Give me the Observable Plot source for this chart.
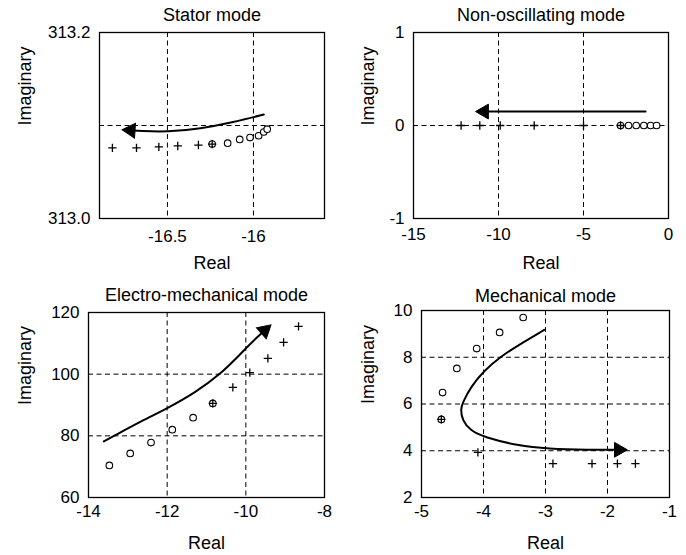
<!DOCTYPE html>
<html><head><meta charset="utf-8">
<script src="https://cdn.jsdelivr.net/npm/d3@7"></script>
<script src="https://cdn.jsdelivr.net/npm/@observablehq/plot@0.6"></script>
<style>
body{margin:0;background:#fff;}
#wrap{position:relative;width:686px;height:555px;background:#fff;overflow:hidden;font-family:"Liberation Sans",Arial,sans-serif;}
.panel{position:absolute;}
</style></head><body><div id="wrap"></div>
<script>
// ---------- Stator mode ----------
const statorTitle = "Stator mode";
const statorXTicks = [-16.5, -16];
const statorXTickLabels = ["-16.5", "-16"];
const statorYTicks = [313.0, 313.2];
const statorYTickLabels = ["313.0", "313.2"];
const statorXGrid = [-16.5, -16];
const statorYGrid = [313.1];
const statorPlusX = [-16.82, -16.68, -16.55, -16.44, -16.32, -16.24];
const statorPlusY = [313.076, 313.076, 313.077, 313.078, 313.079, 313.080];
const statorCircleX = [-16.24, -16.15, -16.08, -16.02, -15.97, -15.94, -15.92];
const statorCircleY = [313.080, 313.081, 313.085, 313.087, 313.089, 313.093, 313.096];
const statorArrowX = [-15.94, -16.115, -16.308, -16.502, -16.657, -16.763];
const statorArrowY = [313.1118, 313.1035, 313.0965, 313.093, 313.0941, 313.0954];

// ---------- Non-oscillating mode ----------
const nonoscTitle = "Non-oscillating mode";
const nonoscXTicks = [-15, -10, -5, 0];
const nonoscXTickLabels = ["-15", "-10", "-5", "0"];
const nonoscYTicks = [-1, 0, 1];
const nonoscYTickLabels = ["-1", "0", "1"];
const nonoscXGrid = [-10, -5];
const nonoscYGrid = [0];
const nonoscPlusX = [-12.2, -11.1, -9.9, -7.9, -5.0, -2.82];
const nonoscPlusY = [0, 0, 0, 0, 0, 0];
const nonoscCircleX = [-2.82, -2.35, -1.9, -1.45, -1.05, -0.7];
const nonoscCircleY = [0, 0, 0, 0, 0, 0];
const nonoscArrowX = [-1.35, -11.35];
const nonoscArrowY = [0.15, 0.15];

// ---------- Electro-mechanical mode ----------
const electroTitle = "Electro-mechanical mode";
const electroXTicks = [-14, -12, -10, -8];
const electroXTickLabels = ["-14", "-12", "-10", "-8"];
const electroYTicks = [60, 80, 100, 120];
const electroYTickLabels = ["60", "80", "100", "120"];
const electroXGrid = [-12, -10];
const electroYGrid = [80, 100];
const electroCircleX = [-13.47, -12.94, -12.41, -11.87, -11.34, -10.84];
const electroCircleY = [70.4, 74.3, 77.8, 82.0, 85.9, 90.5];
const electroPlusX = [-10.84, -10.33, -9.90, -9.44, -9.04, -8.66];
const electroPlusY = [90.5, 95.7, 100.5, 105.1, 110.3, 115.5];
const electroArrowX = [-13.61, -13.32, -12.73, -12.01, -11.29, -10.66, -10.11, -9.69, -9.36];
const electroArrowY = [78.2, 80.2, 84.3, 88.8, 94.0, 99.8, 106.9, 112.3, 116.0];

// ---------- Mechanical mode ----------
const mechTitle = "Mechanical mode";
const mechXTicks = [-5, -4, -3, -2, -1];
const mechXTickLabels = ["-5", "-4", "-3", "-2", "-1"];
const mechYTicks = [2, 4, 6, 8, 10];
const mechYTickLabels = ["2", "4", "6", "8", "10"];
const mechXGrid = [-4, -3, -2];
const mechYGrid = [4, 6, 8];
const mechCircleX = [-4.68, -4.66, -4.43, -4.11, -3.74, -3.36];
const mechCircleY = [5.34, 6.49, 7.52, 8.37, 9.06, 9.70];
const mechPlusX = [-4.68, -4.09, -2.88, -2.25, -1.84, -1.55];
const mechPlusY = [5.34, 3.93, 3.45, 3.45, 3.45, 3.45];
const mechArrowX = [-3.02, -3.45, -3.72, -3.99, -4.21, -4.34, -4.37, -4.34, -4.21, -3.99, -3.45, -2.96, -2.3, -1.68];
const mechArrowY = [9.17, 8.50, 8.03, 7.43, 6.72, 6.03, 5.79, 5.29, 4.86, 4.58, 4.22, 4.08, 4.04, 4.04];

const FONT = "Liberation Sans, Arial, Helvetica, sans-serif";
const zip = (xs, ys) => xs.map((x, i) => ({x, y: ys[i]}));

function panel(c) {
  const {left, top, width, height, m} = c;
  const sx = Plot.scale({x: {domain: c.xDomain, range: [m.left, width - m.right]}});
  const sy = Plot.scale({y: {domain: c.yDomain, range: [height - m.bottom, m.top]}});
  const arrow = zip(c.arrowX, c.arrowY);
  // arrowhead: filled triangle at the end of the curve, oriented along its last segment
  const n = arrow.length;
  const p1 = arrow[n - 2], p2 = arrow[n - 1];
  const ax = sx.apply(p1.x), ay = sy.apply(p1.y), bx = sx.apply(p2.x), by = sy.apply(p2.y);
  const ang = Math.atan2(by - ay, bx - ax);
  const headR = c.headR;
  const tipDist = 2 * Math.sqrt((Math.PI * headR * headR) / (3 * Math.sqrt(3)));
  const hx = bx - Math.cos(ang) * tipDist, hy = by - Math.sin(ang) * tipDist;
  const head = [{x: sx.invert(hx), y: sy.invert(hy), rot: ang * 180 / Math.PI + 90}];
  const lineData = arrow.slice(0, n - 1).concat([{x: sx.invert(hx), y: sy.invert(hy)}]);

  const fs = 17;
  const dash = "5,3.5";
  const plot = Plot.plot({
    width, height,
    marginLeft: m.left, marginRight: m.right, marginTop: m.top, marginBottom: m.bottom,
    x: {domain: c.xDomain, axis: null},
    y: {domain: c.yDomain, axis: null},
    style: {background: "white", color: "black", fontFamily: FONT, fontSize: fs + "px", overflow: "visible"},
    marks: [
      Plot.ruleX(c.xGrid, {stroke: "black", strokeWidth: 1, strokeDasharray: dash}),
      Plot.ruleY(c.yGrid, {stroke: "black", strokeWidth: 1, strokeDasharray: dash}),
      Plot.frame({stroke: "black", strokeWidth: 1.3}),
      Plot.dot(zip(c.circleX, c.circleY), {x: "x", y: "y", symbol: "circle", r: 3.3, stroke: "black", fill: "white", strokeWidth: 1.1}),
      Plot.dot(zip(c.plusX, c.plusY), {x: "x", y: "y", symbol: "plus", r: 2.8, stroke: "black", strokeWidth: 1.3}),
      Plot.line(lineData, {x: "x", y: "y", curve: "basis", stroke: "black", strokeWidth: 2}),
      Plot.dot(head, {x: "x", y: "y", symbol: "triangle", r: headR, rotate: "rot", fill: "black", stroke: "black", strokeWidth: 1}),
      // tick labels
      Plot.text(c.xTicks, {x: d => d, text: (d, i) => c.xTickLabels[i], frameAnchor: "bottom", lineAnchor: "middle", dy: c.xTickDy, fontSize: fs, fill: "black"}),
      Plot.text(c.yTicks, {y: d => d, text: (d, i) => c.yTickLabels[i], frameAnchor: "left", lineAnchor: "middle", textAnchor: "end", dx: -9, fontSize: fs, fill: "black"}),
      // title and axis labels
      Plot.text([c.title], {text: d => d, frameAnchor: "top", lineAnchor: "middle", dy: c.titleDy, fontSize: 18, fill: "black"}),
      Plot.text(["Real"], {text: d => d, frameAnchor: "bottom", lineAnchor: "middle", dy: c.realDy, fontSize: 18, fill: "black"}),
      Plot.text(["Imaginary"], {text: d => d, frameAnchor: "left", lineAnchor: "middle", dx: c.imagDx, rotate: -90, fontSize: 18, fill: "black"})
    ]
  });
  const div = document.createElement("div");
  div.className = "panel";
  div.style.left = left + "px";
  div.style.top = top + "px";
  div.appendChild(plot);
  document.getElementById("wrap").appendChild(div);
}

panel({
  left: 0, top: 0, width: 343, height: 280,
  m: {left: 99, right: 19, top: 32, bottom: 62},
  xDomain: [-16.895, -15.587], yDomain: [313.0, 313.2],
  xTicks: statorXTicks, xTickLabels: statorXTickLabels, yTicks: statorYTicks, yTickLabels: statorYTickLabels,
  xGrid: statorXGrid, yGrid: statorYGrid,
  plusX: statorPlusX, plusY: statorPlusY, circleX: statorCircleX, circleY: statorCircleY,
  arrowX: statorArrowX, arrowY: statorArrowY, headR: 5.5,
  title: statorTitle, titleDy: -17, xTickDy: 18, realDy: 45, imagDx: -74
});
panel({
  left: 343, top: 0, width: 343, height: 280,
  m: {left: 70, right: 18, top: 32, bottom: 62},
  xDomain: [-15, 0], yDomain: [-1, 1],
  xTicks: nonoscXTicks, xTickLabels: nonoscXTickLabels, yTicks: nonoscYTicks, yTickLabels: nonoscYTickLabels,
  xGrid: nonoscXGrid, yGrid: nonoscYGrid,
  plusX: nonoscPlusX, plusY: nonoscPlusY, circleX: nonoscCircleX, circleY: nonoscCircleY,
  arrowX: nonoscArrowX, arrowY: nonoscArrowY, headR: 5.5,
  title: nonoscTitle, titleDy: -17, xTickDy: 16, realDy: 45, imagDx: -45
});
panel({
  left: 0, top: 280, width: 343, height: 275,
  m: {left: 88, right: 19, top: 32, bottom: 58},
  xDomain: [-14, -8], yDomain: [60, 120],
  xTicks: electroXTicks, xTickLabels: electroXTickLabels, yTicks: electroYTicks, yTickLabels: electroYTickLabels,
  xGrid: electroXGrid, yGrid: electroYGrid,
  plusX: electroPlusX, plusY: electroPlusY, circleX: electroCircleX, circleY: electroCircleY,
  arrowX: electroArrowX, arrowY: electroArrowY, headR: 5.5,
  title: electroTitle, titleDy: -17, xTickDy: 14, realDy: 46, imagDx: -63
});
panel({
  left: 343, top: 280, width: 343, height: 275,
  m: {left: 78, right: 17, top: 30, bottom: 58},
  xDomain: [-5, -1], yDomain: [2, 10],
  xTicks: mechXTicks, xTickLabels: mechXTickLabels, yTicks: mechYTicks, yTickLabels: mechYTickLabels,
  xGrid: mechXGrid, yGrid: mechYGrid,
  plusX: mechPlusX, plusY: mechPlusY, circleX: mechCircleX, circleY: mechCircleY,
  arrowX: mechArrowX, arrowY: mechArrowY, headR: 5.5,
  title: mechTitle, titleDy: -14, xTickDy: 14, realDy: 46, imagDx: -53
});
</script>
</body></html>
